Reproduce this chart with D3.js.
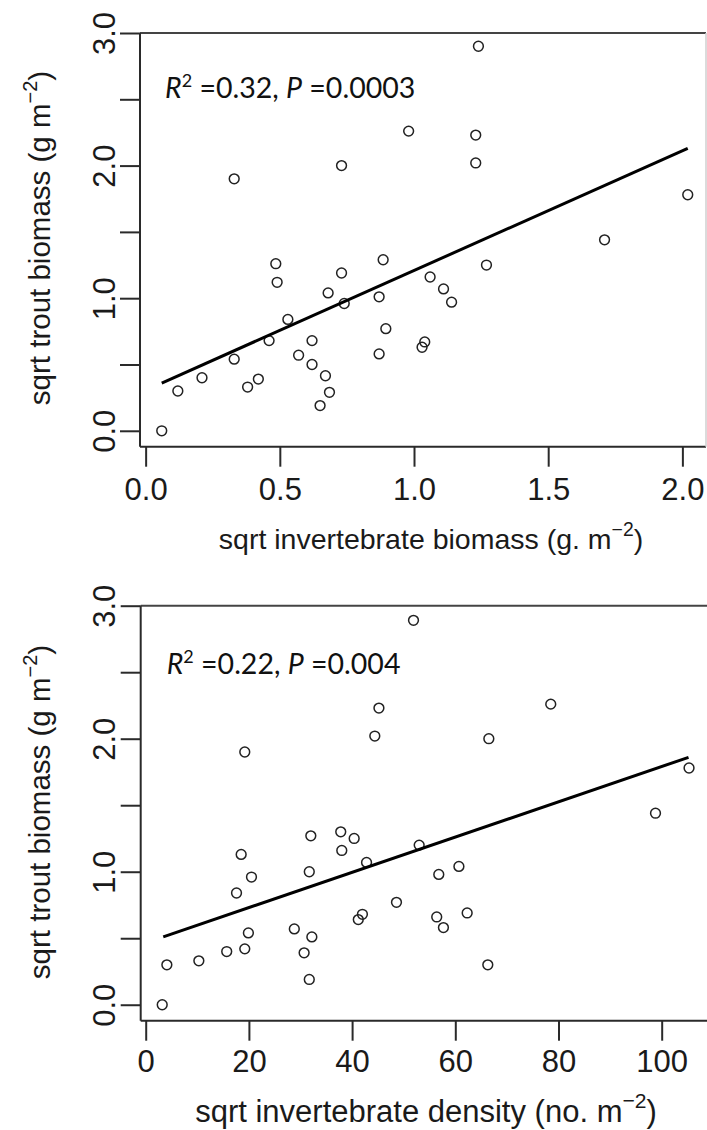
<!DOCTYPE html>
<html><head><meta charset="utf-8">
<script src="https://cdn.jsdelivr.net/npm/d3@7"></script>
<style>body{margin:0;background:#fff;} svg{display:block;}</style>
</head><body>
<svg id="c" width="707" height="1130"></svg>
<script>
// ---- data: top panel (sqrt invertebrate biomass vs sqrt trout biomass)
const topX = [0.06,0.12,0.21,0.33,0.38,0.42,0.46,0.485,0.49,0.53,0.57,0.62,0.62,0.65,0.67,0.685,0.68,0.73,0.74,0.33,0.73,1.24,0.98,1.23,1.23,2.02,1.71,0.885,1.27,1.06,1.11,1.14,0.87,0.895,0.87,1.04,1.03];
const topY = [0.00,0.30,0.40,0.54,0.33,0.39,0.68,1.26,1.12,0.84,0.57,0.68,0.50,0.19,0.415,0.29,1.04,1.19,0.96,1.90,2.00,2.90,2.26,2.23,2.02,1.78,1.44,1.29,1.25,1.16,1.07,0.97,1.01,0.77,0.58,0.67,0.63];
const topLineX = [0.06, 2.02];
const topLineY = [0.36, 2.13];
// ---- data: bottom panel (sqrt invertebrate density vs sqrt trout biomass)
const botX = [3.2,4.1,10.3,15.7,19.2,19.9,17.6,18.5,20.5,19.2,28.8,32.2,30.7,31.7,31.7,32.0,37.8,38.0,40.4,41.2,42.0,42.8,44.4,45.2,48.6,51.9,53.0,56.4,56.8,57.7,60.7,62.3,66.3,66.5,78.5,98.8,105.3];
const botY = [0.00,0.30,0.33,0.40,0.42,0.54,0.84,1.13,0.96,1.90,0.57,0.51,0.39,0.19,1.00,1.27,1.30,1.16,1.25,0.64,0.68,1.07,2.02,2.23,0.77,2.89,1.20,0.66,0.98,0.58,1.04,0.69,0.30,2.00,2.26,1.44,1.78];
const botLineX = [3.4, 105.2];
const botLineY = [0.51, 1.86];
// ---- ticks and labels
const topXTicks = [0, 0.5, 1, 1.5, 2];
const topXLabels = ["0.0","0.5","1.0","1.5","2.0"];
const botXTicks = [0, 20, 40, 60, 80, 100];
const botXLabels = ["0","20","40","60","80","100"];
const yTicks = [0, 0.5, 1, 1.5, 2, 2.5, 3];
const yLabels = ["0.0","","1.0","","2.0","","3.0"];
const yTitle = "sqrt trout biomass (g m";
const topXTitle = "sqrt invertebrate biomass (g. m";
const botXTitle = "sqrt invertebrate density (no. m";
const topStats = ["0.32", "0.0003"];
const botStats = ["0.22", "0.004"];

const svg = d3.select("#c");
const AX = "#2a2a2a";
const FONT = "'Liberation Sans', Arial, sans-serif";

function panel(cfg){
  const g = svg.append("g");
  const x = d3.scaleLinear().domain(cfg.xDomain).range([cfg.left, cfg.right]);
  const y = d3.scaleLinear().domain([-0.12, 3.0]).range([cfg.bottom, cfg.top]);

  // x axis
  const xa = g.append("g").attr("transform", `translate(0,${cfg.bottom})`)
    .call(d3.axisBottom(x).tickValues(cfg.xTicks).tickSize(20).tickSizeOuter(0)
      .tickFormat((d,i)=>cfg.xLabels[i]));
  xa.select(".domain").remove();
  xa.selectAll(".tick line").attr("stroke", AX).attr("stroke-width", 2);
  xa.selectAll(".tick text").attr("y", cfg.xLabelOff).attr("dy", 0)
    .attr("font-family", FONT).attr("font-size", 31).attr("fill", "#1a1a1a");

  // y axis
  const ya = g.append("g").attr("transform", `translate(${cfg.left},0)`)
    .call(d3.axisLeft(y).tickValues(yTicks).tickSize(20).tickSizeOuter(0)
      .tickFormat((d,i)=>yLabels[i]));
  ya.select(".domain").remove();
  ya.selectAll(".tick line").attr("stroke", AX).attr("stroke-width", 2);
  ya.selectAll(".tick text").attr("transform", "rotate(-90)")
    .attr("x", 0).attr("y", -25.5).attr("dy", 0).attr("text-anchor", "middle")
    .attr("font-family", FONT).attr("font-size", 31).attr("fill", "#1a1a1a");

  // box
  g.append("line").attr("x1", cfg.left).attr("x2", cfg.right).attr("y1", cfg.top).attr("y2", cfg.top)
    .attr("stroke", "#444").attr("stroke-width", 2);
  g.append("line").attr("x1", cfg.left).attr("x2", cfg.right).attr("y1", cfg.bottom).attr("y2", cfg.bottom)
    .attr("stroke", AX).attr("stroke-width", 2);
  g.append("line").attr("x1", cfg.left).attr("x2", cfg.left).attr("y1", cfg.top).attr("y2", cfg.bottom)
    .attr("stroke", AX).attr("stroke-width", 2);
  g.append("line").attr("x1", cfg.right).attr("x2", cfg.right).attr("y1", cfg.top).attr("y2", cfg.bottom)
    .attr("stroke", "#cfcfcf").attr("stroke-width", 1.5);

  // points
  g.append("g").selectAll("circle").data(cfg.xs.map((v,i)=>[v, cfg.ys[i]])).join("circle")
    .attr("cx", d=>x(d[0])).attr("cy", d=>y(d[1])).attr("r", 4.9)
    .attr("fill", "none").attr("stroke", "#222").attr("stroke-width", 1.5);

  // regression line
  g.append("path").datum(cfg.lx.map((v,i)=>[v, cfg.ly[i]]))
    .attr("d", d3.line().x(d=>x(d[0])).y(d=>y(d[1])))
    .attr("stroke", "#000").attr("stroke-width", 3).attr("fill", "none");

  // stats annotation
  const t = g.append("text").attr("x", cfg.noteX).attr("y", cfg.noteY)
    .attr("font-family", "Lato, 'Open Sans', sans-serif").attr("font-size", 28.5).attr("fill", "#111");
  t.append("tspan").attr("font-style", "italic").text("R");
  t.append("tspan").attr("font-size", 18).attr("dy", -11.5).text("2");
  t.append("tspan").attr("dy", 11.5).text(" =" + cfg.stats[0] + ", ");
  t.append("tspan").attr("font-style", "italic").text("P");
  t.append("tspan").text(" =" + cfg.stats[1]);

  // y title
  const yt = g.append("text").attr("transform", `translate(50,${cfg.yTitleC}) rotate(-90)`)
    .attr("text-anchor", "middle").attr("font-family", FONT).attr("font-size", 29.5).attr("fill", "#1a1a1a");
  yt.append("tspan").text(yTitle);
  yt.append("tspan").attr("font-size", 20).attr("dy", -13).text("\u22122");
  yt.append("tspan").attr("dy", 13).text(")");

  // x title
  const xt = g.append("text").attr("x", cfg.xTitleX).attr("y", cfg.xTitleY).attr("text-anchor", "middle")
    .attr("font-family", FONT).attr("font-size", cfg.xTitleSize).attr("fill", "#1a1a1a");
  xt.append("tspan").text(cfg.xTitle);
  xt.append("tspan").attr("font-size", cfg.xTitleSize * 0.68).attr("dy", -cfg.xTitleSize * 0.45).text("\u22122");
  xt.append("tspan").attr("dy", cfg.xTitleSize * 0.45).text(")");
}

panel({left:140, right:706, top:33, bottom:446.7, xDomain:[-0.021, 2.088],
  xTicks: topXTicks, xLabels: topXLabels, xLabelOff: 53.3,
  xs: topX, ys: topY, lx: topLineX, ly: topLineY,
  noteX: 165, noteY: 98.3, stats: topStats,
  yTitleC: 238, xTitle: topXTitle, xTitleX: 431, xTitleY: 549, xTitleSize: 28.5});

panel({left:140.7, right:712, top:605.7, bottom:1020.7, xDomain:[-0.97, 109.75],
  xTicks: botXTicks, xLabels: botXLabels, xLabelOff: 51,
  xs: botX, ys: botY, lx: botLineX, ly: botLineY,
  noteX: 166.7, noteY: 674.3, stats: botStats,
  yTitleC: 812, xTitle: botXTitle, xTitleX: 426, xTitleY: 1121.5, xTitleSize: 31});
</script>
</body></html>
